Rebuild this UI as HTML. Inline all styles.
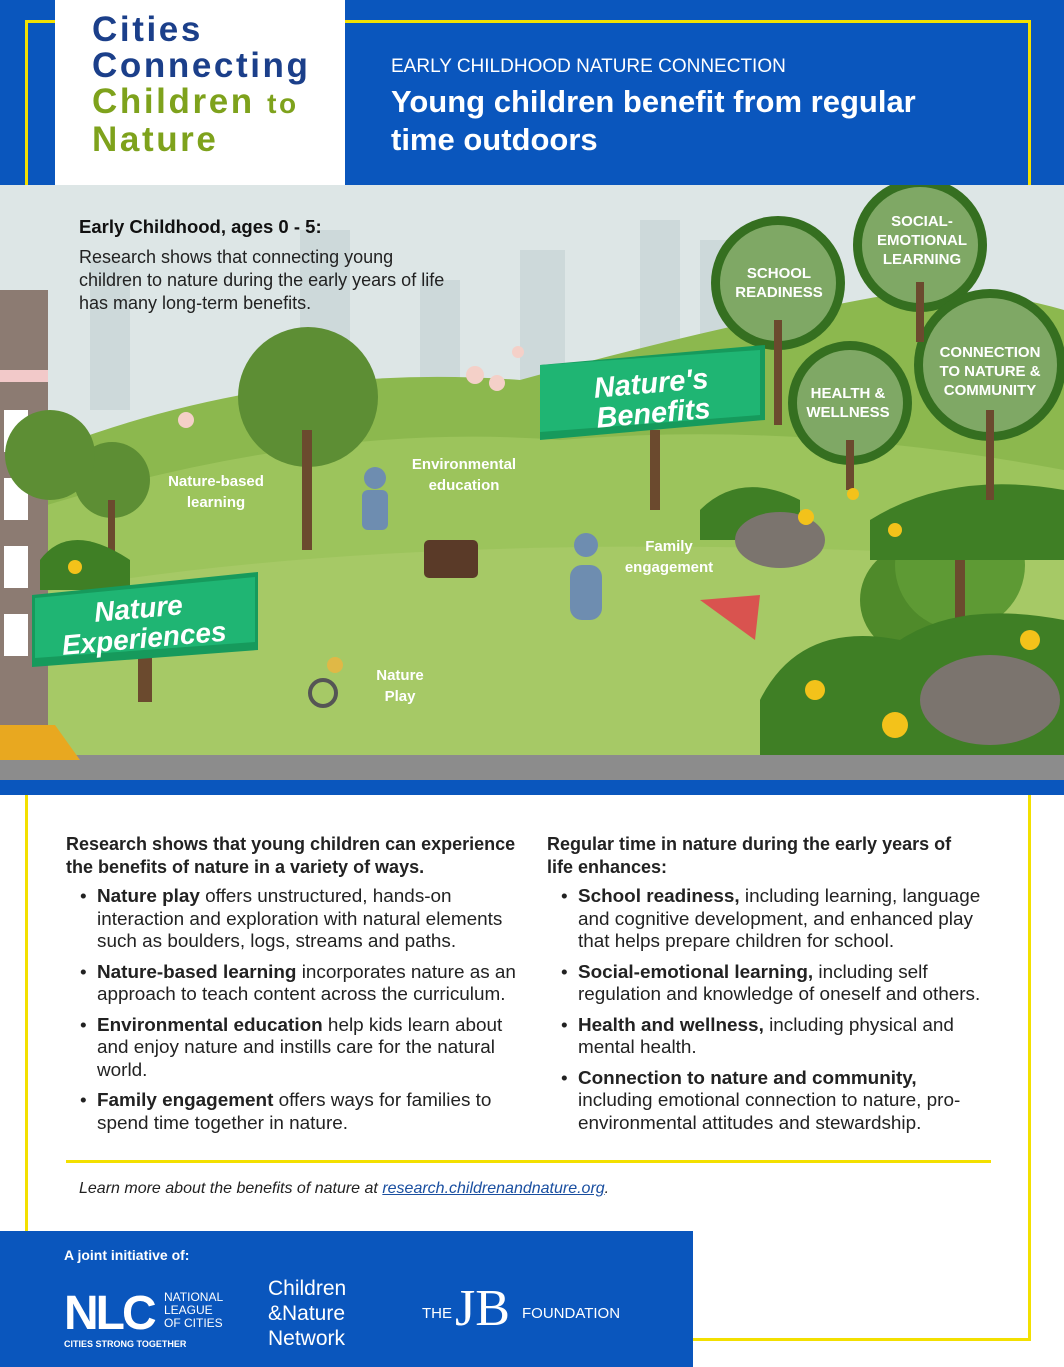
<!DOCTYPE html>
<html><head><meta charset="utf-8"><style>
*{margin:0;padding:0;box-sizing:border-box}
body{width:1064px;height:1367px;position:relative;background:#fff;font-family:"Liberation Sans",sans-serif;overflow:hidden}
.a{position:absolute}
.t{font-size:18.9px;color:#222;line-height:22.5px}
ul{list-style:none}
li{position:relative;padding-left:31px;margin-bottom:8px}
li:before{content:"•";position:absolute;left:14px}
</style></head><body>
<div class="a" style="left:0;top:0;width:1064px;height:185px;background:#0a56bd"></div>
<div class="a" style="left:25px;top:20px;width:1006px;height:180px;border:3px solid #f3e000;border-bottom:none"></div>
<div class="a" style="left:55px;top:0;width:290px;height:185px;background:#fff"></div>
<div class="a" style="left:92px;top:12px;font-weight:bold;font-size:35px;line-height:36px;letter-spacing:2.6px;color:#1b3f8a">Cities<br>Connecting<br><span style="color:#7ea21c">Children <span style="font-size:28px">to</span><br>Nature</span></div>
<div class="a" style="left:391px;top:56px;color:#fff;font-size:19px">EARLY CHILDHOOD NATURE CONNECTION</div>
<div class="a" style="left:391px;top:83px;color:#fff;font-size:31px;font-weight:bold;line-height:38px">Young children benefit from regular<br>time outdoors</div>

<svg class="a" style="left:0;top:185px" width="1064" height="610" viewBox="0 185 1064 610">
<rect x="0" y="185" width="1064" height="610" fill="#dde6e6"/>
<g fill="#cdd9da"><rect x="90" y="260" width="40" height="150"/><rect x="300" y="230" width="50" height="200"/><rect x="420" y="280" width="40" height="150"/><rect x="520" y="250" width="45" height="160"/><rect x="640" y="220" width="40" height="150"/><rect x="700" y="240" width="30" height="120"/></g>
<path d="M0 470 Q250 360 520 380 Q700 330 860 300 Q960 280 1064 310 V795 H0Z" fill="#8cb84e"/>
<path d="M0 520 Q300 420 560 440 Q800 420 1064 470 V795 H0Z" fill="#9cc45c"/>
<path d="M0 600 Q400 520 1064 560 V795 H0Z" fill="#a6c966"/>
<rect x="0" y="290" width="48" height="440" fill="#8c7b72"/><rect x="0" y="370" width="48" height="12" fill="#f2c9c9"/>
<g fill="#fff"><rect x="4" y="410" width="24" height="42"/><rect x="4" y="478" width="24" height="42"/><rect x="4" y="546" width="24" height="42"/><rect x="4" y="614" width="24" height="42"/></g>
<circle cx="308" cy="397" r="70" fill="#5d8e34"/><rect x="302" y="430" width="10" height="120" fill="#6b4a2e"/>
<circle cx="112" cy="480" r="38" fill="#5d8e34"/><rect x="108" y="500" width="7" height="60" fill="#6b4a2e"/>
<circle cx="50" cy="455" r="45" fill="#5d8e34"/>
<circle cx="915" cy="600" r="55" fill="#4f8a2a"/><circle cx="960" cy="565" r="65" fill="#5e9a34"/><rect x="955" y="560" width="10" height="120" fill="#6b4a2e"/>
<path d="M760 700 Q800 620 900 640 Q960 600 1064 620 V760 H760Z" fill="#3f7f25"/>
<path d="M870 520 Q950 470 1064 490 V560 H870Z" fill="#3f7f25"/>
<path d="M700 510 Q740 470 800 500 L800 540 H700Z" fill="#3f7f25"/>
<path d="M40 560 Q70 520 130 560 V590 H40Z" fill="#3f7f25"/>
<ellipse cx="780" cy="540" rx="45" ry="28" fill="#7b746e"/><ellipse cx="990" cy="700" rx="70" ry="45" fill="#7b746e"/>
<g fill="#356f20"><circle cx="778" cy="283" r="67"/><circle cx="920" cy="245" r="67"/><circle cx="850" cy="403" r="62"/><circle cx="990" cy="365" r="76"/></g>
<g fill="#7fa865"><circle cx="778" cy="283" r="58"/><circle cx="920" cy="245" r="58"/><circle cx="850" cy="403" r="53"/><circle cx="990" cy="365" r="67"/></g>
<g fill="#6b4a2e"><rect x="774" y="320" width="8" height="105"/><rect x="916" y="282" width="8" height="60"/><rect x="846" y="440" width="8" height="50"/><rect x="986" y="410" width="8" height="90"/><rect x="650" y="430" width="10" height="80"/><rect x="138" y="640" width="14" height="62"/></g>
<g fill="#fff" font-family="Liberation Sans" font-weight="bold" font-size="15" text-anchor="middle">
<text x="779" y="278">SCHOOL</text><text x="779" y="297">READINESS</text>
<text x="922" y="226">SOCIAL-</text><text x="922" y="245">EMOTIONAL</text><text x="922" y="264">LEARNING</text>
<text x="848" y="398">HEALTH &amp;</text><text x="848" y="417">WELLNESS</text>
<text x="990" y="357">CONNECTION</text><text x="990" y="376">TO NATURE &amp;</text><text x="990" y="395">COMMUNITY</text>
<text x="216" y="486">Nature-based</text><text x="216" y="507">learning</text>
<text x="464" y="469">Environmental</text><text x="464" y="490">education</text>
<text x="669" y="551">Family</text><text x="669" y="572">engagement</text>
<text x="400" y="680">Nature</text><text x="400" y="701">Play</text></g>
<polygon points="540,365 765,345 765,420 540,440" fill="#169a5c"/><polygon points="540,365 760,350 760,415 540,432" fill="#1fb573"/>
<text x="595" y="393" transform="rotate(-5 650 400)" fill="#fff" font-family="Liberation Sans" font-weight="bold" font-style="italic" font-size="29">Nature's</text>
<text x="595" y="423" transform="rotate(-5 650 400)" fill="#fff" font-family="Liberation Sans" font-weight="bold" font-style="italic" font-size="29">Benefits</text>
<polygon points="32,595 258,572 258,650 32,667" fill="#169a5c"/><polygon points="35,598 255,577 255,642 35,658" fill="#1fb573"/>
<text x="95" y="618" transform="rotate(-5 140 620)" fill="#fff" font-family="Liberation Sans" font-weight="bold" font-style="italic" font-size="28">Nature</text>
<text x="60" y="648" transform="rotate(-5 140 620)" fill="#fff" font-family="Liberation Sans" font-weight="bold" font-style="italic" font-size="28">Experiences</text>
<g fill="#6e8db0"><circle cx="375" cy="478" r="11"/><rect x="362" y="490" width="26" height="40" rx="6"/></g>
<g fill="#5a3a28"><rect x="424" y="540" width="54" height="38" rx="5"/></g>
<g fill="#6e8db0"><circle cx="586" cy="545" r="12"/><rect x="570" y="565" width="32" height="55" rx="12"/></g>
<path d="M700 600 L760 595 L755 640 Z" fill="#d9534f"/>
<g fill="#e0b846"><circle cx="335" cy="665" r="8"/></g><circle cx="323" cy="693" r="13" fill="none" stroke="#555" stroke-width="4"/>
<rect x="0" y="755" width="1064" height="25" fill="#8c8c8c"/><rect x="0" y="780" width="1064" height="15" fill="#0a56bd"/>
<path d="M0 725 H55 L80 760 H0Z" fill="#e8a820"/>
<g fill="#f3c21a"><circle cx="806" cy="517" r="8"/><circle cx="853" cy="494" r="6"/><circle cx="895" cy="725" r="13"/><circle cx="815" cy="690" r="10"/><circle cx="1030" cy="640" r="10"/><circle cx="895" cy="530" r="7"/><circle cx="75" cy="567" r="7"/></g>
<g fill="#f4d0c8"><circle cx="475" cy="375" r="9"/><circle cx="497" cy="383" r="8"/><circle cx="186" cy="420" r="8"/><circle cx="518" cy="352" r="6"/></g>
</svg>
<div class="a" style="left:79px;top:216px;font-size:18.5px;font-weight:bold;color:#111">Early Childhood, ages 0 - 5:</div>
<div class="a" style="left:79px;top:246px;font-size:18px;color:#222;line-height:23px">Research shows that connecting young<br>children to nature during the early years of life<br>has many long-term benefits.</div>

<div class="a" style="left:25px;top:795px;width:1006px;height:546px;border:3px solid #f3e000;border-top:none"></div>
<div class="a" style="left:66px;top:833px;width:462px" >
<div class="t" style="font-weight:bold;font-size:18px;margin-bottom:8px">Research shows that young children can experience the benefits of nature in a variety of ways.</div>
<ul class="t"><li><b>Nature play</b> offers unstructured, hands-on interaction and exploration with natural elements such as boulders, logs, streams and paths.</li>
<li><b>Nature-based learning</b> incorporates nature as an approach to teach content across the curriculum.</li>
<li><b>Environmental education</b> help kids learn about and enjoy nature and instills care for the natural world.</li>
<li><b>Family engagement</b> offers ways for families to spend time together in nature.</li></ul></div>
<div class="a" style="left:547px;top:833px;width:440px">
<div class="t" style="font-weight:bold;font-size:18px;margin-bottom:8px">Regular time in nature during the early years of<br>life enhances:</div>
<ul class="t"><li><b>School readiness,</b> including learning, language and cognitive development, and enhanced play that helps prepare children for school.</li>
<li><b>Social-emotional learning,</b> including self regulation and knowledge of oneself and others.</li>
<li><b>Health and wellness,</b> including physical and mental health.</li>
<li><b>Connection to nature and community,</b> including emotional connection to nature, pro-environmental attitudes and stewardship.</li></ul></div>
<div class="a" style="left:66px;top:1160px;width:925px;height:3px;background:#f3e000"></div>
<div class="a" style="left:79px;top:1180px;font-size:16px;font-style:italic;color:#222">Learn more about the benefits of nature at <span style="color:#1a4fa0;text-decoration:underline">research.childrenandnature.org</span>.</div>

<div class="a" style="left:0;top:1231px;width:693px;height:136px;background:#0a56bd;color:#fff">
<div class="a" style="left:64px;top:16px;font-size:14px;font-weight:bold">A joint initiative of:</div>
<div class="a" style="left:64px;top:55px;font-size:48px;font-weight:bold;letter-spacing:-3px">NLC</div>
<div class="a" style="left:164px;top:60px;font-size:12px;line-height:13px">NATIONAL<br>LEAGUE<br>OF CITIES</div>
<div class="a" style="left:64px;top:108px;font-size:9px;font-weight:bold">CITIES STRONG TOGETHER</div>
<div class="a" style="left:268px;top:45px;font-size:21px;line-height:25px">Children<br>&amp;Nature<br>Network</div>
<div class="a" style="left:422px;top:74px;font-size:15px">THE</div>
<div class="a" style="left:455px;top:48px;font-size:52px;font-family:'Liberation Serif',serif;font-weight:100">JB</div>
<div class="a" style="left:522px;top:74px;font-size:15px">FOUNDATION</div>
</div>
</body></html>
